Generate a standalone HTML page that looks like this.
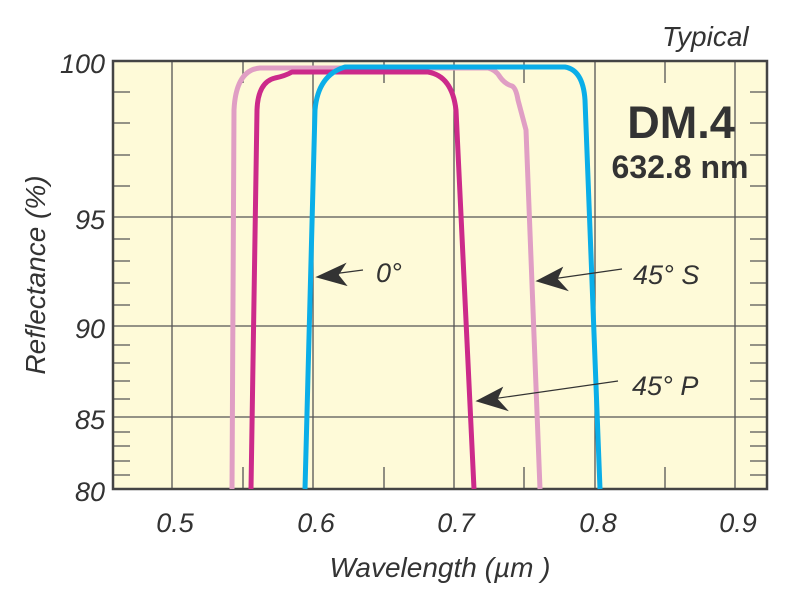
<!DOCTYPE html>
<html><head><meta charset="utf-8"><style>
body{margin:0;background:#fff;width:797px;height:600px;overflow:hidden}
svg{display:block}
.it{font-family:"Liberation Sans",sans-serif;font-style:italic;fill:#333}
</style></head><body>
<svg width="797" height="600" viewBox="0 0 797 600">
<rect x="113" y="61" width="654" height="428" fill="#fefad8"/>
<g stroke="#555" stroke-width="1.3" fill="none">
<line x1="172" y1="61" x2="172" y2="489"/>
<line x1="313" y1="61" x2="313" y2="489"/>
<line x1="454" y1="61" x2="454" y2="489"/>
<line x1="595" y1="61" x2="595" y2="489"/>
<line x1="735" y1="61" x2="735" y2="489"/>
<line x1="113" y1="217" x2="767" y2="217"/>
<line x1="113" y1="326" x2="767" y2="326"/>
<line x1="113" y1="417" x2="767" y2="417"/>
<path d="M243 61v22M243 489v-22M384 61v22M384 489v-22M524 61v22M524 489v-22M665 61v22M665 489v-22"/>
<path d="M113 92h17M113 123h17M113 155h17M113 186h17M113 239h17M113 261h17M113 283h17M113 305h17M113 345h17M113 363h17M113 381h17M113 399h17M113 432h17M113 446h17M113 461h17M113 475h17"/>
<path d="M767 92h-17M767 123h-17M767 155h-17M767 186h-17M767 239h-17M767 261h-17M767 283h-17M767 305h-17M767 345h-17M767 363h-17M767 381h-17M767 399h-17M767 432h-17M767 446h-17M767 461h-17M767 475h-17"/>
</g>
<rect x="113" y="61" width="654" height="428" fill="none" stroke="#444" stroke-width="2.5"/>
<g fill="none" stroke-width="5" stroke-linejoin="round">
<path stroke="#e09ec4" d="M232 489 L234 110 Q236 70 260 68 L488 68 Q496 70 500 77 Q505 84 512 86 Q516 88 518 100 L526 130 L540 489"/>
<path stroke="#cc2a8a" d="M251 489 L257 110 Q258 82 275 78 Q285 76 292 72 L428 72 Q452 76 456 110 L474 489"/>
<path stroke="#0aaee8" d="M305 489 L315 110 Q318 75 345 67 L565 67 Q583 70 585 100 L600 489"/>
</g>
<g stroke="#333" stroke-width="1.2" fill="#333">
<line x1="325" y1="275" x2="363" y2="270"/><path d="M317 277 L345 264 L338 275 L346 285Z"/>
<line x1="545" y1="280" x2="622" y2="269"/><path d="M537 281 L562 268 L557 279 L567 290Z"/>
<line x1="485" y1="400" x2="618" y2="381"/><path d="M477 401 L502 388 L497 399 L507 410Z"/>
</g>
<text class="it" x="376" y="282" font-size="27">0°</text>
<text class="it" x="633" y="284" font-size="27">45° S</text>
<text class="it" x="632" y="395" font-size="27">45° P</text>
<text class="it" x="662" y="46" font-size="28">Typical</text>
<text x="681" y="138" font-family="Liberation Sans,sans-serif" font-weight="bold" font-size="45" fill="#333" text-anchor="middle">DM.4</text>
<text x="680" y="178" font-family="Liberation Sans,sans-serif" font-weight="bold" font-size="32" fill="#333" text-anchor="middle">632.8 nm</text>
<g class="it" font-size="27" text-anchor="end">
<text x="105" y="73">100</text><text x="105" y="229">95</text><text x="105" y="338">90</text><text x="105" y="429">85</text><text x="105" y="501">80</text>
</g>
<g class="it" font-size="27" text-anchor="middle">
<text x="175" y="532">0.5</text><text x="316" y="532">0.6</text><text x="456" y="532">0.7</text><text x="598" y="532">0.8</text><text x="738" y="532">0.9</text>
</g>
<text class="it" x="440" y="577" font-size="28" text-anchor="middle">Wavelength (µm )</text>
<text class="it" font-size="28" text-anchor="middle" transform="translate(45,275) rotate(-90)">Reflectance (%)</text>
</svg>
</body></html>
